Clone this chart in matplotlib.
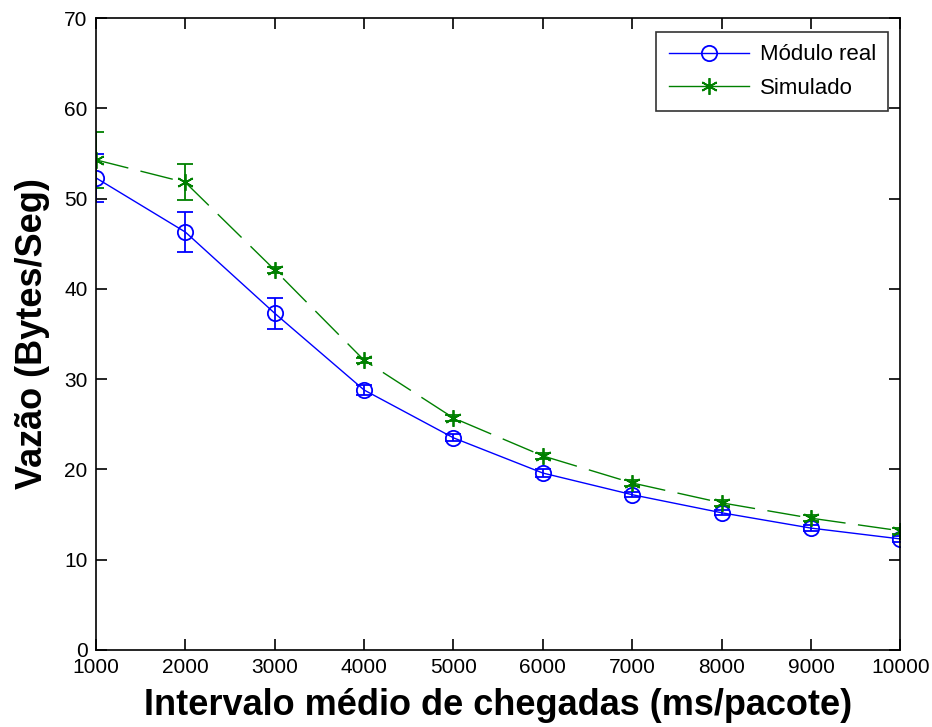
import matplotlib
matplotlib.use('Agg')
import matplotlib.pyplot as plt
from matplotlib.lines import Line2D

# intervalo medio entre chegadas (ms/pacote)
intervalo = [1000, 2000, 3000, 4000, 5000, 6000, 7000, 8000, 9000, 10000]

# vazao medida no modulo real e respectivo erro
vazao_real = [52.3, 46.3, 37.3, 28.8, 23.5, 19.6, 17.2, 15.2, 13.5, 12.3]
erro_real = [2.7, 2.2, 1.7, 0.6, 0.4, 0.4, 0.3, 0.3, 0.3, 0.3]

# vazao obtida na simulacao e respectivo erro
vazao_sim = [54.3, 51.8, 42.1, 32.1, 25.7, 21.5, 18.5, 16.3, 14.6, 13.2]
erro_sim = [3.1, 2.0, 0.3, 0.3, 0.3, 0.3, 0.3, 0.3, 0.3, 0.3]

azul = (0, 0, 1)
verde = (0, 0.5, 0)
asterisco = (6, 2, 0)
tracejado = (0, (24, 9))

fig = plt.figure(figsize=(9.32, 7.27), dpi=100)
ax = fig.add_axes([0.103, 0.106, 0.863, 0.869])

ax.errorbar(intervalo, vazao_real, yerr=erro_real, color=azul, lw=1,
            marker='o', ms=11, mfc='none', mew=1.3, capsize=6, elinewidth=1.3,
            capthick=1.3)
ax.errorbar(intervalo, vazao_sim, yerr=erro_sim, color=verde, lw=1,
            ls=tracejado, marker=asterisco, ms=12, mew=1.3, capsize=6,
            elinewidth=1.3, capthick=1.3)

ax.set_xlim(1000, 10000)
ax.set_ylim(0, 70)
ax.set_xticks(intervalo)
ax.set_yticks(range(0, 71, 10))

tick_font = {'family': 'Liberation Sans', 'size': 15}
ax.set_xticklabels([str(v) for v in intervalo], fontdict=tick_font)
ax.set_yticklabels([str(v) for v in range(0, 71, 10)], fontdict=tick_font)
ax.tick_params(direction='in', length=8, width=1.2, top=True, right=True, pad=6)
for s in ax.spines.values():
    s.set_linewidth(1.2)

ax.set_xlabel('Intervalo médio de chegadas (ms/pacote)', fontsize=26,
              fontweight='bold', family='Liberation Sans', labelpad=8)
ax.set_ylabel('Vazão (Bytes/Seg)', fontsize=26, fontweight='bold',
              family='Liberation Sans', labelpad=10)

# legenda sem as barras de erro, apenas linha e marcador
alcas = [
    Line2D([], [], color=azul, lw=1, marker='o', ms=11, mfc='none', mew=1.3),
    Line2D([], [], color=verde, lw=1, marker=asterisco, ms=12, mew=1.3),
]
leg = ax.legend(alcas, ['Módulo real', 'Simulado'], loc='upper right',
                fancybox=False, edgecolor='black',
                prop={'family': 'Liberation Sans', 'size': 16},
                bbox_to_anchor=(0.985, 0.978), borderaxespad=0,
                handlelength=3.6, handletextpad=0.5, borderpad=0.55,
                labelspacing=0.55)
leg.get_frame().set_linewidth(1.2)

fig.savefig('out.png', dpi=100)
